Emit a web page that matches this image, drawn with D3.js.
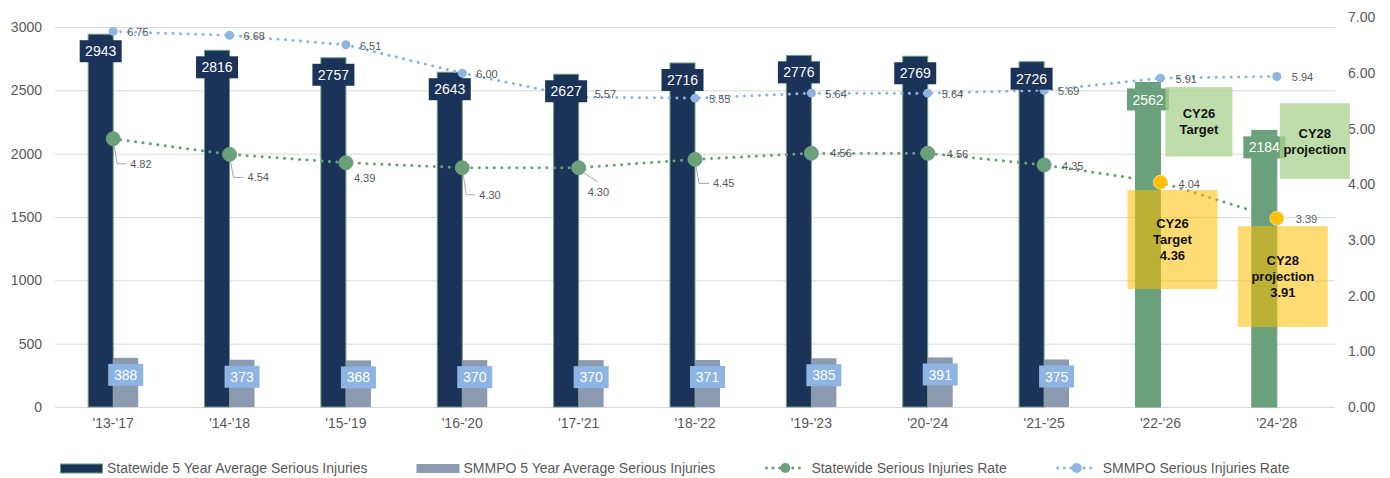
<!DOCTYPE html>
<html><head><meta charset="utf-8">
<script src="https://cdn.jsdelivr.net/npm/d3@7"></script>
<style>html,body{margin:0;padding:0;background:#fff;}svg{display:block;font-family:"Liberation Sans",Arial,sans-serif;}</style>
</head><body>
<svg id="chart" width="1390" height="478"></svg>
<script>
// ---- data ----
const categories = ["'13-'17","'14-'18","'15-'19","'16-'20","'17-'21","'18-'22","'19-'23","'20-'24","'21-'25","'22-'26","'24-'28"];
const statewideInjuries = [2943,2816,2757,2643,2627,2716,2776,2769,2726,2562,2184];
const smmpoInjuries = [388,373,368,370,370,371,385,391,375,null,null];
const statewideRate = [4.82,4.54,4.39,4.30,4.30,4.45,4.56,4.56,4.35,4.04,3.39];
const smmpoRate = [6.75,6.68,6.51,6.00,5.57,5.55,5.64,5.64,5.69,5.91,5.94];
const targetCategories = ["'22-'26","'24-'28"];
const leftTicks = [0,500,1000,1500,2000,2500,3000];
const rightTicks = [0,1,2,3,4,5,6,7];
const seriesNames = ["Statewide 5 Year Average Serious Injuries","SMMPO 5 Year Average Serious Injuries","Statewide Serious Injuries Rate","SMMPO Serious Injuries Rate"];
const greenNotes = [["CY26","Target"],["CY28","projection"]];
const yellowNotes = [["CY26","Target","4.36"],["CY28","projection","3.91"]];

// ---- layout / style ----
const C = {navy:"#1b3358", gray:"#8c9ab0", green:"#6aa07a", blue:"#8db4e2", yellow:"#ffc000", text:"#595959", grid:"#d9d9d9"};
// statewide rate label placement relative to point: [dx, dy, leader type]
const swLabelLayout = [[17,25,"elbow"],[18,23,"elbow"],[8,15,""],[17,27,"elbow"],[9,24,"diag"],[18,24,"elbow"],[19,0,""],[19,1,""],[18,1,""],[18,2,""],[19,1,""]];
const smLabelLayout = [[14,1],[14,1],[14,1],[14,1],[16,-3],[14,1],[14,1],[14,1],[14,1],[15,1],[15,1]];

const svg = d3.select("#chart");
const x = d3.scaleBand().domain(categories).range([55,1335]).paddingInner(0).paddingOuter(0);
const bw = x.bandwidth();
const barW = 25;
const inner = d3.scaleBand().domain(["sw","sm"]).range([0,2*barW]);
const yL = d3.scaleLinear().domain([0,3000]).range([407,27]);
const yR = d3.scaleLinear().domain([0,7]).range([407,17.5]);
const cx = c => x(c) + bw/2;
const barX = (c,s) => cx(c) - barW + inner(s);
const isTarget = c => targetCategories.includes(c);

// gridlines
svg.append("g").selectAll("line").data(leftTicks).join("line")
  .attr("x1",55).attr("x2",1335).attr("y1",d=>yL(d)+0.5).attr("y2",d=>yL(d)+0.5)
  .attr("stroke",C.grid).attr("stroke-width",1);

// left axis
const axL = svg.append("g").attr("transform","translate(42,0)")
  .call(d3.axisLeft(yL).tickValues(leftTicks).tickSize(0).tickPadding(0).tickFormat(d3.format("d")));
axL.select(".domain").remove();
axL.selectAll("text").attr("fill",C.text).style("font-size","14px").style("font-family","Liberation Sans, Arial");
// right axis
const axR = svg.append("g").attr("transform","translate(1348,0)")
  .call(d3.axisRight(yR).tickValues(rightTicks).tickSize(0).tickPadding(0).tickFormat(d3.format(".2f")));
axR.select(".domain").remove();
axR.selectAll("text").attr("fill",C.text).style("font-size","14px").style("font-family","Liberation Sans, Arial");
// x axis
const axX = svg.append("g").attr("transform","translate(0,415)")
  .call(d3.axisBottom(x).tickSize(0).tickPadding(3));
axX.select(".domain").remove();
axX.selectAll("text").attr("fill",C.text).style("font-size","14px").style("font-family","Liberation Sans, Arial");

// bars
const swData = categories.map((c,i)=>({c,v:statewideInjuries[i]}));
const smData = categories.map((c,i)=>({c,v:smmpoInjuries[i]})).filter(d=>d.v!=null);
svg.append("g").selectAll("rect").data(swData).join("rect")
  .attr("x",d=>barX(d.c,"sw")).attr("width",barW)
  .attr("y",d=>yL(d.v)).attr("height",d=>yL(0)-yL(d.v))
  .attr("fill",d=>isTarget(d.c)?C.green:C.navy)
  .attr("stroke",C.green).attr("stroke-width",1);
svg.append("g").selectAll("rect").data(smData).join("rect")
  .attr("x",d=>barX(d.c,"sm")).attr("width",barW)
  .attr("y",d=>yL(d.v)).attr("height",d=>yL(0)-yL(d.v))
  .attr("fill",C.gray);

// lines
const swPts = categories.map((c,i)=>({c,v:statewideRate[i],i}));
const smPts = categories.map((c,i)=>({c,v:smmpoRate[i],i}));
const line = d3.line().x(d=>cx(d.c)).y(d=>yR(d.v));
svg.append("path").datum(swPts).attr("d",line).attr("fill","none").attr("stroke",C.green)
  .attr("stroke-width",3).attr("stroke-linecap","round").attr("stroke-dasharray","0.1 7.4");
svg.append("path").datum(smPts).attr("d",line).attr("fill","none").attr("stroke",C.blue)
  .attr("stroke-width",3).attr("stroke-linecap","round").attr("stroke-dasharray","0.1 7.4");
svg.append("g").selectAll("circle").data(smPts).join("circle")
  .attr("cx",d=>cx(d.c)).attr("cy",d=>yR(d.v)).attr("r",4.5).attr("fill",C.blue);
svg.append("g").selectAll("circle").data(swPts).join("circle")
  .attr("cx",d=>cx(d.c)).attr("cy",d=>yR(d.v)).attr("r",7)
  .attr("fill",d=>isTarget(d.c)?C.yellow:C.green)
  .attr("stroke",d=>isTarget(d.c)?"#f3dc9a":C.green).attr("stroke-width",1);

// bar labels
const swLab = svg.append("g").selectAll("g").data(swData).join("g")
  .attr("transform",d=>`translate(${barX(d.c,"sw")+barW/2},${yL(d.v)+6})`);
swLab.append("rect").attr("x",-21).attr("width",42).attr("height",22)
  .attr("fill",d=>isTarget(d.c)?C.green:C.navy);
swLab.append("text").attr("y",11).attr("dy","0.36em").attr("text-anchor","middle")
  .attr("fill","#fff").style("font-size","14px").text(d=>d.v);
const smLab = svg.append("g").selectAll("g").data(smData).join("g")
  .attr("transform",d=>`translate(${barX(d.c,"sm")+barW/2},${yL(d.v)+6})`);
smLab.append("rect").attr("x",-17.5).attr("width",35).attr("height",22).attr("fill",C.blue);
smLab.append("text").attr("y",11).attr("dy","0.36em").attr("text-anchor","middle")
  .attr("fill","#fff").style("font-size","14px").text(d=>d.v);

// rate labels
const fmt = d3.format(".2f");
svg.append("g").selectAll("text").data(smPts).join("text")
  .attr("x",d=>cx(d.c)+smLabelLayout[d.i][0]).attr("y",d=>yR(d.v)+smLabelLayout[d.i][1])
  .attr("dy","0.35em").attr("fill",C.text).style("font-size","11px").text(d=>fmt(d.v));
const swl = svg.append("g");
swPts.forEach(d=>{
  const [dx,dy,lead] = swLabelLayout[d.i];
  const px = cx(d.c), py = yR(d.v), tx = px+dx, ty = py+dy;
  if (lead==="elbow") {
    swl.append("path").attr("d",`M${px+1},${py+7}L${px+4},${ty}L${tx-4},${ty}`)
      .attr("fill","none").attr("stroke","#a6a6a6").attr("stroke-width",1);
  } else if (lead==="diag") {
    swl.append("path").attr("d",`M${px+5},${py+5}L${tx+10},${ty-10}`)
      .attr("fill","none").attr("stroke","#a6a6a6").attr("stroke-width",1);
  }
  swl.append("text").attr("x",tx).attr("y",ty).attr("dy","0.35em").attr("fill",C.text)
    .style("font-size","11px").text(fmt(d.v));
});

// annotation boxes
const greenBoxes = [{c:"'22-'26",dx:5,y0:5.75,y1:4.5},{c:"'24-'28",dx:3,y0:5.46,y1:4.1}];
const yellowBoxes = [{c:"'22-'26",dx:-33,y0:3.9,y1:2.12},{c:"'24-'28",dx:-39,y0:3.25,y1:1.44}];
function note(box, lines, fill, op, w) {
  const x0 = cx(box.c)+box.dx, yt = yR(box.y0), yb = yR(box.y1);
  const g = svg.append("g");
  g.append("rect").attr("x",x0).attr("y",yt).attr("width",w).attr("height",yb-yt)
    .attr("fill",fill).attr("fill-opacity",op);
  const lh = 16, mid = (yt+yb)/2 - (lines.length-1)*lh/2;
  g.selectAll("text").data(lines).join("text")
    .attr("x",x0+w/2).attr("y",(d,i)=>mid+i*lh).attr("dy","0.35em").attr("text-anchor","middle")
    .attr("fill","#111").style("font-size","13px").style("font-weight","bold").text(d=>d);
}
greenBoxes.forEach((b,i)=>note(b,greenNotes[i],"#a9d18e",0.75,i===0?67:70));
yellowBoxes.forEach((b,i)=>note(b,yellowNotes[i],C.yellow,0.55,90));

// legend
const leg = svg.append("g").attr("transform","translate(60,468)");
let lx = 0;
seriesNames.forEach((name,i)=>{
  const g = leg.append("g").attr("transform",`translate(${lx},0)`);
  if (i===0) g.append("rect").attr("x",0.5).attr("y",-4).attr("width",42).attr("height",9).attr("fill",C.navy).attr("stroke",C.green);
  else if (i===1) g.append("rect").attr("x",0).attr("y",-4).attr("width",43).attr("height",9).attr("fill",C.gray);
  else {
    const col = i===2?C.green:C.blue;
    g.append("line").attr("x1",2).attr("x2",41).attr("y1",0).attr("y2",0).attr("stroke",col)
      .attr("stroke-width",3).attr("stroke-linecap","round").attr("stroke-dasharray","0.1 6.5");
    g.append("circle").attr("cx",21).attr("cy",0).attr("r",5).attr("fill",col);
  }
  const t = g.append("text").attr("x",47).attr("dy","0.35em").attr("fill",C.text).style("font-size","14px").text(name);
  lx += 47 + t.node().getComputedTextLength() + 49;
});
</script>
</body></html>
